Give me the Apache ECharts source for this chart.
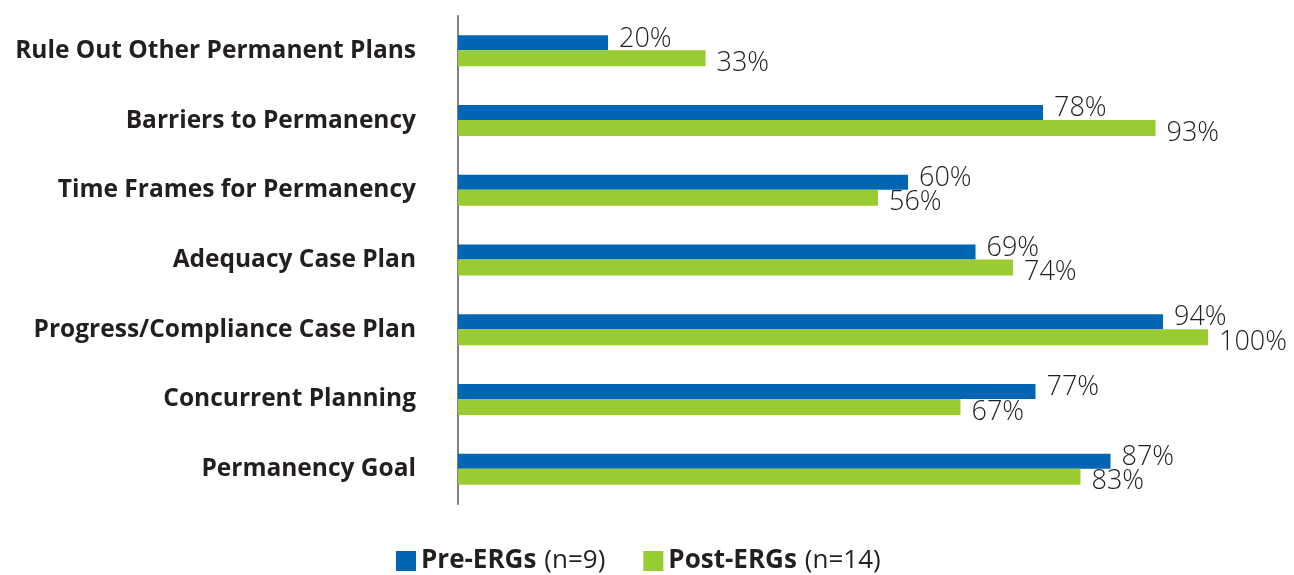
<!DOCTYPE html>
<html>
<head>
<meta charset="utf-8">
<script src="https://cdn.jsdelivr.net/npm/echarts@6/dist/echarts.min.js"></script>
<style>
html,body{margin:0;padding:0;background:#fff;}
#c{width:1294px;height:575px;}
</style>
</head>
<body>
<div id="c"></div>
<script>
var categories = ['Rule Out Other Permanent Plans','Barriers to Permanency','Time Frames for Permanency','Adequacy Case Plan','Progress/Compliance Case Plan','Concurrent Planning','Permanency Goal'];
var preValues = [20,78,60,69,94,77,87];
var postValues = [33,93,56,74,100,67,83];
var seriesNames = ['Pre-ERGs','Post-ERGs'];
var sampleSizes = ['(n=9)','(n=14)'];

var chart = echarts.init(document.getElementById('c'));
var labelBase = {
  show: true, position: 'right', distance: 11,
  fontFamily: 'Open Sans', fontSize: 27, fontWeight: 300, color: '#231f20',
  formatter: '{c}%'
};
chart.setOption({
  animation: false,
  backgroundColor: '#ffffff',
  grid: {left: 458, right: 86, top: 16, bottom: 71, containLabel: false},
  xAxis: {type: 'value', min: 0, max: 100, show: false},
  yAxis: {
    type: 'category', data: categories, inverse: true,
    axisLine: {show: true, lineStyle: {color: '#808080', width: 2}},
    axisTick: {show: false}, splitLine: {show: false},
    axisLabel: {fontFamily: 'Open Sans', fontWeight: 'bold', fontSize: 24.5, color: '#231f20', margin: 42}
  },
  legend: {
    bottom: -4, left: 391, itemWidth: 20, itemHeight: 20, itemGap: 38,
    icon: 'rect',
    formatter: function (name) {
      var i = seriesNames.indexOf(name);
      return '{b|' + name + '}{n|' + sampleSizes[i] + '}';
    },
    textStyle: {
      rich: {
        b: {fontFamily: 'Open Sans', fontWeight: 'bold', fontSize: 26, color: '#231f20'},
        n: {fontFamily: 'Open Sans', fontWeight: 'normal', fontSize: 26, color: '#231f20', padding: [0, 0, 0, 8]}
      }
    },
    data: seriesNames
  },
  series: [
    {name: seriesNames[0], type: 'bar', data: preValues, barWidth: 15, barGap: '0%',
     itemStyle: {color: '#0066b3'},
     label: Object.assign({}, labelBase, {offset: [0, -4]})},
    {name: seriesNames[1], type: 'bar', data: postValues, barWidth: 16, barGap: '0%',
     itemStyle: {color: '#99cc33'},
     label: Object.assign({}, labelBase, {offset: [0, 5]})}
  ]
});
</script>
</body>
</html>
